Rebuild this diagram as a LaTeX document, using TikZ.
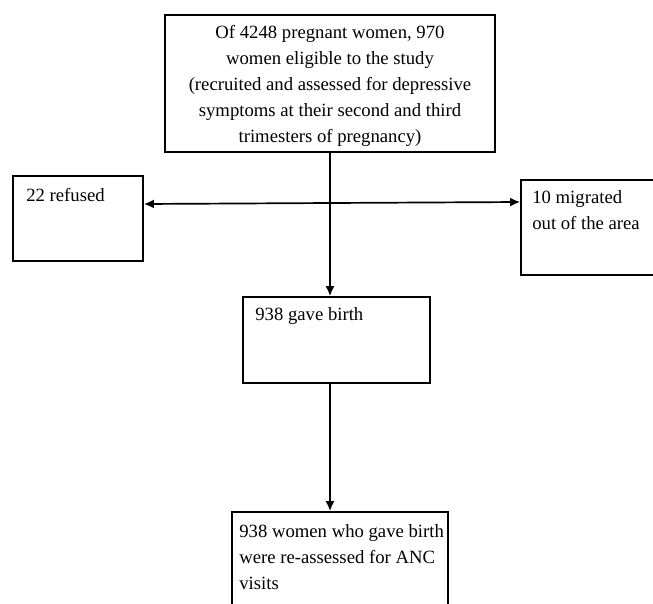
\documentclass[tikz,border=0pt]{standalone}
\usepackage{fontspec}
\setmainfont{Liberation Serif}
\usepackage{pgf,tikz}
\usepackage{xcolor}
\usetikzlibrary{arrows}
\usetikzlibrary{arrows, arrows.meta, calc}

\tikzset{
  box/.style={draw, line width=1.8pt, inner sep=0pt},
  txt/.style={inner sep=0pt, font=\fontsize{18.7}{26}\selectfont},
  arr/.style={-{Latex[length=10pt, width=9pt]}, line width=1.7pt}
}

\begin{document}
\begin{tikzpicture}[x=1pt, y=-1pt]
    \clip (0,0) rectangle (653,604);
    \node[box, minimum width=330pt, minimum height=137pt] (eligible) at (330,83.5) {};
    \node[txt, align=center] (eligibletxt) at (330,85.5) {Of 4248 pregnant women, 970\\women eligible to the study\\(recruited and assessed for depressive\\symptoms at their second and third\\trimesters of pregnancy)};

    \node[box, minimum width=130pt, minimum height=85pt] (refused) at (78,218.5) {};
    \node[txt, anchor=north west] (refusedtxt) at ([xshift=14pt, yshift=-13pt]refused.north west) {22 refused};

    \node[box, minimum width=159pt, minimum height=95pt] (migrated) at (600.5,227.5) {};
    \node[txt, anchor=north west, align=left] (migratedtxt) at ([xshift=12pt, yshift=-11pt]migrated.north west) {10 migrated\\out of the area};

    \node[box, minimum width=187pt, minimum height=86pt] (birth) at (336.5,340) {};
    \node[txt, anchor=north west] (birthtxt) at ([xshift=13pt, yshift=-11pt]birth.north west) {938 gave birth};

    \node[box, minimum width=216pt, minimum height=128pt] (assess) at (340,576) {};
    \node[txt, anchor=north west, align=left] (assesstxt) at ([xshift=8pt, yshift=-13pt]assess.north west) {938 women who gave birth\\were re-assessed for ANC\\visits};

    \draw[arr] (eligible.south) -- (eligible.south |- birth.north);
    \draw[arr, {Latex[length=10pt, width=9pt]}-{Latex[length=10pt, width=9pt]}] ([yshift=14.5pt]refused.east) -- ([yshift=25.5pt]migrated.west);
    \draw[arr] (birth.south -| eligible.south) -- (eligible.south |- assess.north);
\end{tikzpicture}
\end{document}
